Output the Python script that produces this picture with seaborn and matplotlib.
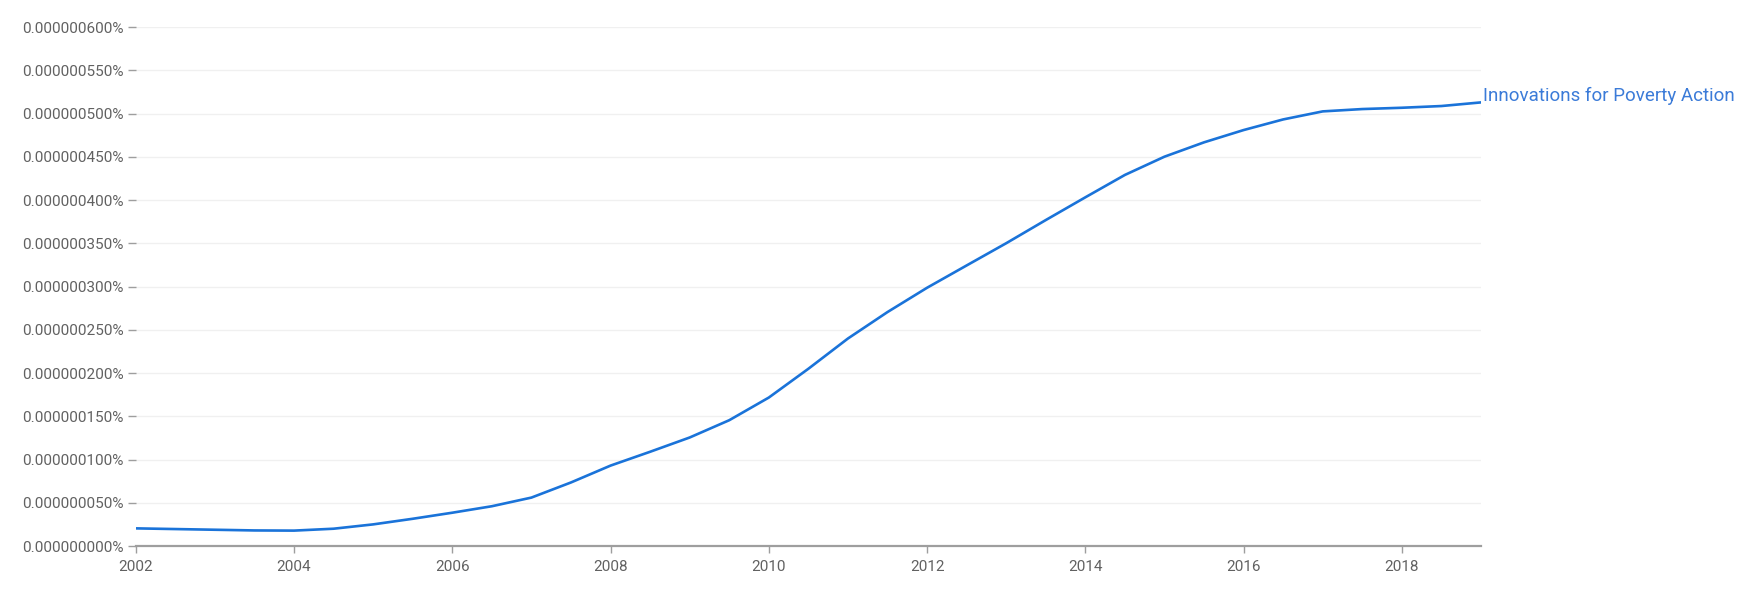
import matplotlib
matplotlib.use("Agg")
import matplotlib.pyplot as plt
import matplotlib.ticker as mticker
import seaborn as sns
import pandas as pd

# values (percent)
years = [2002, 2002.5, 2003, 2003.5, 2004, 2004.5, 2005, 2005.5, 2006, 2006.5,
         2007, 2007.5, 2008, 2008.5, 2009, 2009.5, 2010, 2010.5, 2011, 2011.5,
         2012, 2012.5, 2013, 2013.5, 2014, 2014.5, 2015, 2015.5, 2016, 2016.5,
         2017, 2017.5, 2018, 2018.5, 2019]
freq = [2.04e-8, 1.96e-8, 1.88e-8, 1.80e-8, 1.78e-8, 2.00e-8, 2.50e-8, 3.15e-8, 3.85e-8, 4.60e-8,
        5.60e-8, 7.35e-8, 9.30e-8, 1.09e-7, 1.255e-7, 1.455e-7, 1.717e-7, 2.05e-7, 2.40e-7, 2.706e-7,
        2.987e-7, 3.245e-7, 3.502e-7, 3.77e-7, 4.033e-7, 4.292e-7, 4.503e-7, 4.669e-7, 4.811e-7, 4.934e-7,
        5.027e-7, 5.054e-7, 5.069e-7, 5.089e-7, 5.131e-7]
series_name = "Innovations for Poverty Action"

y_ticks = [i * 5e-8 for i in range(13)]
x_ticks = list(range(2002, 2019, 2))

df = pd.DataFrame({"year": years, "freq": freq})

sns.set_style("white")
plt.rcParams["font.family"] = ["Roboto", "DejaVu Sans"]

fig = plt.figure(figsize=(17.52, 5.89), dpi=100)
ax = fig.add_axes([0.0775, 0.073, 0.7678, 0.8807])

sns.lineplot(data=df, x="year", y="freq", ax=ax, color="#1a73d9", linewidth=1.9)

ax.set_xlim(2002, 2019)
ax.set_ylim(0, 6e-7)
ax.set_xticks(x_ticks)
ax.set_yticks(y_ticks)
ax.yaxis.set_major_formatter(mticker.FuncFormatter(lambda v, p: f"{v:.9f}%"))
ax.set_xlabel("")
ax.set_ylabel("")

ax.grid(axis="y", color="#f0f0f0", linewidth=1)
ax.grid(axis="x", visible=False)
for s in ["top", "right", "left"]:
    ax.spines[s].set_visible(False)
ax.spines["bottom"].set_color("#9e9e9e")
ax.spines["bottom"].set_linewidth(1.6)

ax.tick_params(axis="y", length=6, width=1, color="#9e9e9e", labelsize=11,
               labelcolor="#616161", pad=3, left=True)
ax.tick_params(axis="x", length=5, width=1, color="#9e9e9e", labelsize=11,
               labelcolor="#616161", pad=5, bottom=True)

ax.text(years[-1] + 0.02, freq[-1] + 0.75e-8, series_name, color="#3b7bd8",
        fontsize=13.5, va="center", ha="left", clip_on=False)

fig.savefig("out.png", dpi=100)
